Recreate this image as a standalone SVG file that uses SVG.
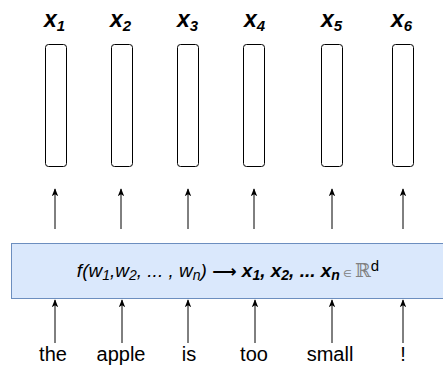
<svg xmlns="http://www.w3.org/2000/svg" width="443" height="365" viewBox="0 0 443 365">
<style>
.cell{fill:#ffffff;stroke:#000000;stroke-width:1}
.lbl{font-family:"Liberation Sans",Arial,sans-serif;font-weight:bold;font-style:italic;font-size:23px;fill:#000}
.sub{font-size:15px}
.word{font-family:"Liberation Sans",Arial,sans-serif;font-size:20px;fill:#000;text-anchor:middle}
.edge{stroke:#000;stroke-width:1;fill:none;marker-end:url(#ah)}
.fm{font-family:"Liberation Sans",Arial,sans-serif;font-size:19px;font-style:italic;fill:#000}
.s{font-size:14px}
</style>
<defs>
<marker id="ah" viewBox="0 0 10 10" refX="9" refY="5" markerWidth="8" markerHeight="8" markerUnits="userSpaceOnUse" orient="auto">
<path d="M0,1 L10,5 L0,9 L2.5,5 Z" fill="#000"/>
</marker>
</defs>
<g id="x1"><rect class="cell" x="45.5" y="44.5" width="21" height="122" rx="3"/><text class="lbl" x="44" y="27">x<tspan class="sub" dy="4">1</tspan></text></g>
<g id="x2"><rect class="cell" x="111.5" y="44.5" width="21" height="122" rx="3"/><text class="lbl" x="110" y="27">x<tspan class="sub" dy="4">2</tspan></text></g>
<g id="x3"><rect class="cell" x="177.5" y="44.5" width="21" height="122" rx="3"/><text class="lbl" x="177" y="27">x<tspan class="sub" dy="4">3</tspan></text></g>
<g id="x4"><rect class="cell" x="243.5" y="44.5" width="21" height="122" rx="3"/><text class="lbl" x="244" y="27">x<tspan class="sub" dy="4">4</tspan></text></g>
<g id="x5"><rect class="cell" x="321.5" y="44.5" width="21" height="122" rx="3"/><text class="lbl" x="321" y="27">x<tspan class="sub" dy="4">5</tspan></text></g>
<g id="x6"><rect class="cell" x="392.5" y="44.5" width="21" height="122" rx="3"/><text class="lbl" x="391" y="27">x<tspan class="sub" dy="4">6</tspan></text></g>
<g id="encoder">
<rect x="11.5" y="243.5" width="440" height="55" fill="#dae8fc" stroke="#6c8ebf" stroke-width="1"/>
<text class="fm" x="228" y="277" text-anchor="middle">f(w<tspan class="s" dy="3">1</tspan><tspan dy="-3">,w</tspan><tspan class="s" dy="3">2</tspan><tspan dy="-3">, ... , w</tspan><tspan class="s" dy="3">n</tspan><tspan dy="-3">) </tspan><tspan font-style="normal" font-family="DejaVu Sans,sans-serif" font-weight="bold" font-size="17">⟶</tspan><tspan font-weight="bold"> x</tspan><tspan class="s" font-weight="bold" dy="3">1</tspan><tspan font-weight="bold" dy="-3">, x</tspan><tspan class="s" font-weight="bold" dy="3">2</tspan><tspan font-weight="bold" dy="-3">, ... x</tspan><tspan class="s" font-weight="bold" dy="3">n</tspan><tspan dy="-3" font-style="normal" font-size="10" fill="#808080" font-family="DejaVu Sans,sans-serif"> ∈ </tspan><tspan font-style="normal" fill="#808080" font-family="DejaVu Serif,serif">ℝ</tspan><tspan font-style="normal" font-size="15" dy="-6">d</tspan></text>
</g>
<g id="w-the"><text class="word" x="53" y="361">the</text></g>
<g id="w-apple"><text class="word" x="121" y="361">apple</text></g>
<g id="w-is"><text class="word" x="189" y="361">is</text></g>
<g id="w-too"><text class="word" x="254" y="361">too</text></g>
<g id="w-small"><text class="word" x="330" y="361">small</text></g>
<g id="w-excl"><text class="word" x="403" y="361">!</text></g>
<g id="connectors">
<line class="edge" x1="55" y1="229" x2="55" y2="189"/>
<line class="edge" x1="121" y1="229" x2="121" y2="189"/>
<line class="edge" x1="188" y1="229" x2="188" y2="189"/>
<line class="edge" x1="254" y1="229" x2="254" y2="189"/>
<line class="edge" x1="332" y1="229" x2="332" y2="189"/>
<line class="edge" x1="403" y1="229" x2="403" y2="189"/>
<line class="edge" x1="55" y1="343" x2="55" y2="300"/>
<line class="edge" x1="122" y1="343" x2="122" y2="300"/>
<line class="edge" x1="188" y1="343" x2="188" y2="300"/>
<line class="edge" x1="255" y1="343" x2="255" y2="300"/>
<line class="edge" x1="332" y1="343" x2="332" y2="300"/>
<line class="edge" x1="403" y1="343" x2="403" y2="300"/>
</g>
</svg>
